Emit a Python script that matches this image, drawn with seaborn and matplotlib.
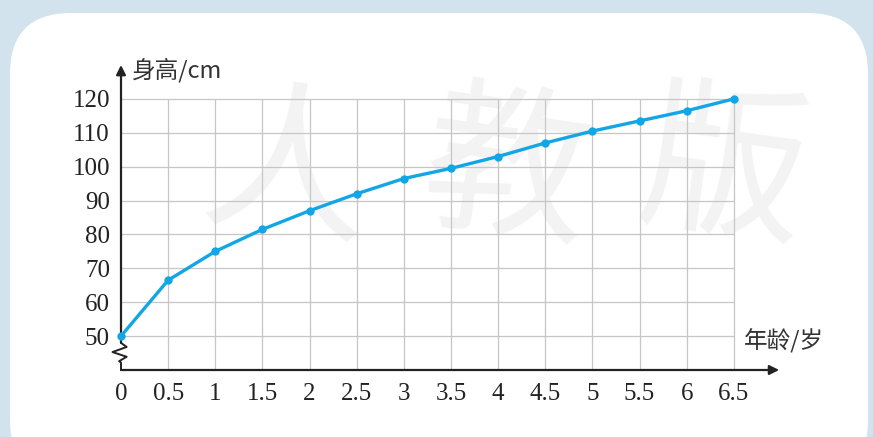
import matplotlib
matplotlib.use("Agg")
import matplotlib.pyplot as plt
from matplotlib.patches import FancyBboxPatch
import seaborn as sns

# 数据
ages = [0, 0.5, 1, 1.5, 2, 2.5, 3, 3.5, 4, 4.5, 5, 5.5, 6, 6.5]
heights = [50, 66.5, 75, 81.5, 87, 92, 96.5, 99.5, 103, 107, 110.5, 113.5, 116.5, 120]
x_ticks = ages
y_ticks = [50, 60, 70, 80, 90, 100, 110, 120]
x_label = "年龄/岁"
y_label = "身高/cm"

sns.set_style("white")
plt.rcParams['font.family'] = ['Liberation Serif', 'Noto Sans CJK SC']

W, H = 873, 437
fig = plt.figure(figsize=(W / 100, H / 100), dpi=100)
fig.patch.set_facecolor('#d3e3ee')

# 白色圆角背景
panel = FancyBboxPatch((10 / W, -0.1), 858 / W, (H - 13) / H + 0.1,
                       boxstyle="round,pad=0,rounding_size=0.07",
                       transform=fig.transFigure, facecolor='white',
                       edgecolor='none', mutation_aspect=W / H, zorder=-10)
fig.patches.append(panel)

# 水印
for ch, xp in zip("人教版", [0.33, 0.58, 0.83]):
    fig.text(xp, 0.6, ch, fontsize=120, color='#f3f3f3', ha='center', va='center',
             family=['Noto Sans CJK SC'], rotation=-8, zorder=-5)

ax = fig.add_axes([121 / W, (H - 370) / H, 660 / W, 305 / H])
ax.set_facecolor('none')
ax.set_xlim(0, 7)
ax.set_ylim(40, 130)
for s in ax.spines.values():
    s.set_visible(False)

# 网格
grid_c = '#c6c6c6'
ax.hlines(y_ticks, 0, 6.5, color=grid_c, lw=0.9, zorder=1)
ax.vlines(x_ticks[1:], 40, 120, color=grid_c, lw=0.9, zorder=1)

# 坐标轴（带箭头和折断号）
ax.annotate('', xy=(6.98, 40), xytext=(0, 40),
            arrowprops=dict(arrowstyle='-|>', color='#222222', lw=1.6,
                            mutation_scale=14, shrinkA=0, shrinkB=0),
            annotation_clip=False, zorder=3)
ax.annotate('', xy=(0, 130), xytext=(0, 48),
            arrowprops=dict(arrowstyle='-|>', color='#222222', lw=1.6,
                            mutation_scale=14, shrinkA=0, shrinkB=0),
            annotation_clip=False, zorder=3)
ax.plot([0, 0.06, -0.09, 0.06, -0.02, 0, 0], [48, 46.8, 45.3, 43.9, 42.6, 42.2, 40],
        color='#222222', lw=1.4, clip_on=False, zorder=3)

sns.lineplot(x=ages, y=heights, ax=ax, color='#12a6e6', lw=2.4, marker='o',
             markersize=6, markeredgewidth=0, zorder=5, clip_on=False)

ax.set_xticks(x_ticks)
ax.set_xticklabels([f"{v:g}" for v in x_ticks])
ax.set_yticks(y_ticks)
ax.tick_params(length=0, labelsize=18, colors='#222222')
ax.tick_params(axis='y', pad=8)
ax.tick_params(axis='x', pad=9)

ax.text(0.12, 128.5, y_label, fontsize=17, color='#333333', va='center', ha='left',
        family=['Noto Sans CJK SC'])
ax.text(6.61, 48.5, x_label, fontsize=17, color='#333333', va='center', ha='left',
        family=['Noto Sans CJK SC'])

fig.savefig('out.png', dpi=100)
